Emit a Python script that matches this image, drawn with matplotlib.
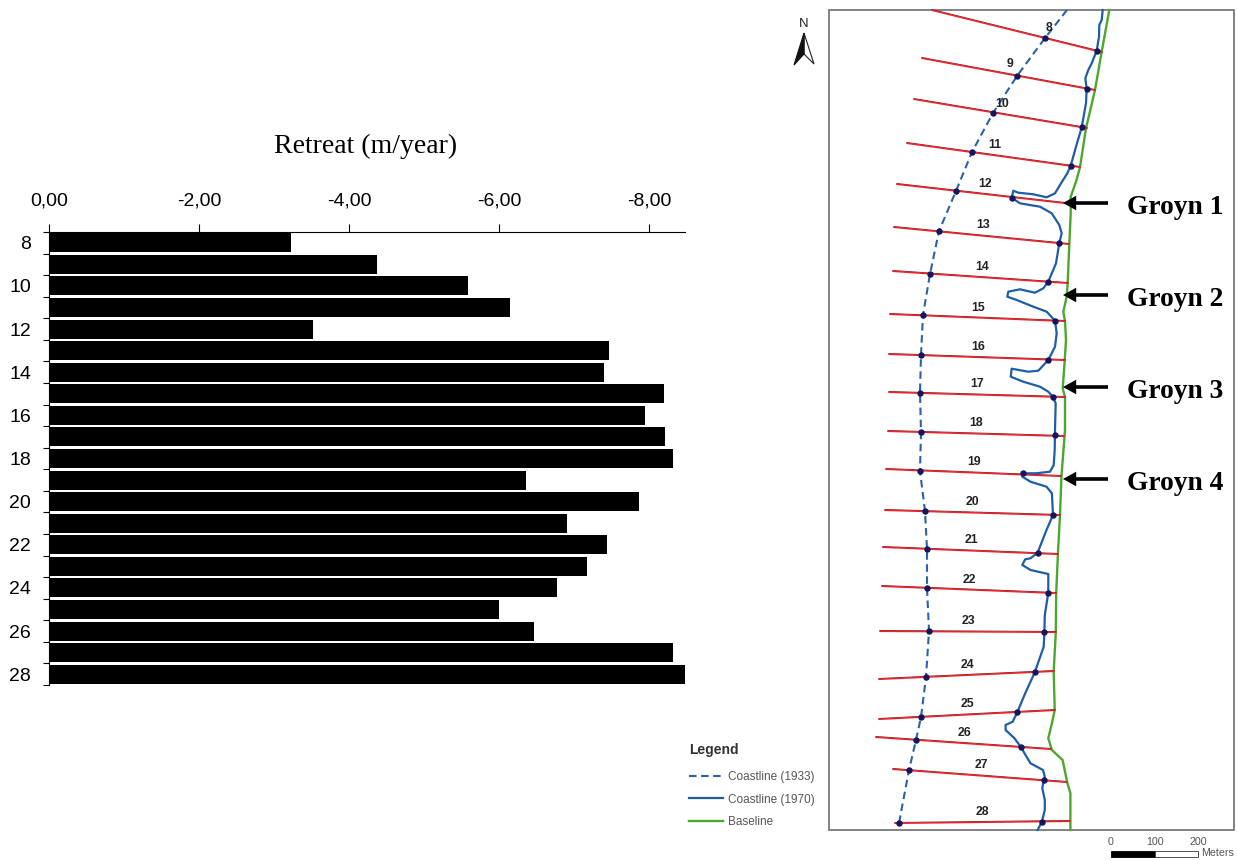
import numpy as np
from matplotlib import pyplot as plt
from matplotlib.lines import Line2D
from matplotlib.patches import Polygon, Rectangle

# bar chart values
profiles = list(range(8, 29))
retreat = [-3.23, -4.37, -5.59, -6.15, -3.52, -7.47, -7.40, -8.20, -7.95, -8.21, -8.32,
           -6.36, -7.87, -6.91, -7.44, -7.17, -6.77, -6.00, -6.47, -8.32, -8.48]
x_ticks = [0, -2, -4, -6, -8]
x_labels = ['0,00', '-2,00', '-4,00', '-6,00', '-8,00']

transect_left = [(932, 10), (922, 58), (914, 99), (907, 143), (897, 184), (894, 227), (893, 271),
                 (890, 314), (889, 354), (889, 392), (888, 431), (886, 469), (885, 510), (883, 547),
                 (882, 586), (880, 631), (879, 679), (879, 719), (876, 737), (893, 769), (895, 823)]
transect_right = [(1102, 52), (1095, 90), (1087, 128), (1080, 167), (1065, 203), (1069, 244), (1068, 283),
                  (1065, 321), (1065, 360), (1065, 397), (1064, 436), (1061, 476), (1060, 515), (1058, 554),
                  (1056, 593), (1056, 632), (1054, 671), (1055, 710), (1051, 749), (1067, 782), (1070, 821)]
label_pos = [(1049, 28), (1010, 64), (1002, 104), (995, 145), (985, 184), (983, 225), (982, 267),
             (978, 308), (978, 347), (977, 384), (976, 423), (974, 462), (972, 502), (971, 540),
             (969, 580), (968, 621), (967, 665), (967, 704), (965, 733), (981, 765), (982, 812)]
coast_1933 = [(1067, 10), (1045, 38), (1017, 76), (993, 113), (972, 152), (956, 191), (939, 231),
              (930, 274), (923, 315), (921, 355), (920, 393), (921, 432), (920, 471), (925, 511),
              (927, 549), (927, 588), (929, 631), (926, 677), (921, 717), (916, 740), (909, 770),
              (899, 823), (898, 827)]
coast_1970 = [(1102.7, 10), (1101.7, 20), (1099.3, 25), (1099, 36.7), (1096.7, 50.7), (1091.7, 63.3),
              (1088.3, 70), (1085.3, 78.3), (1086.7, 88.7), (1086, 103.3), (1081.7, 127.3), (1076, 146.7),
              (1070.7, 165.7), (1067.3, 173.3), (1060, 185), (1055, 193.3), (1046.7, 197.3), (1033.3, 194.3),
              (1018.3, 192.7), (1013.3, 190.7), (1011.7, 197.7), (1020, 203.3), (1040, 206.7), (1051.7, 213.3),
              (1059.3, 225), (1061.7, 233.3), (1059.3, 243), (1056, 263.3), (1048.3, 281.7), (1043.3, 288.3),
              (1035, 292.7), (1020, 289.3), (1008.3, 291.7), (1007.3, 296.7), (1016.7, 300), (1033.3, 306.7),
              (1046.7, 311.7), (1055, 320.7), (1056.7, 333.3), (1055, 346.7), (1048.3, 360), (1038.3, 370.7),
              (1028.3, 371.7), (1011.7, 368.7), (1010.7, 376.7), (1023.3, 381.7), (1040, 386.7), (1048.3, 391.7),
              (1052.7, 396.7), (1055.7, 403.3), (1055, 430), (1054.7, 450), (1053.7, 465), (1050, 471.7),
              (1035.9, 473.3), (1023.4, 473.3), (1022.3, 476.7), (1030.5, 481.7), (1046.5, 486.7), (1051.9, 493.3),
              (1053, 515), (1046.5, 530), (1037.6, 552.7), (1030.5, 558.3), (1025.2, 559.3), (1022.3, 565),
              (1030.5, 570), (1048.3, 574), (1048.3, 592.7), (1044.8, 615), (1044.4, 631.7), (1043.7, 646.7),
              (1034.8, 672.3), (1025.2, 693.3), (1017.4, 712), (1012.7, 721.7), (1005.6, 725), (1005.6, 730),
              (1014.5, 738.3), (1020.6, 746.7), (1030.5, 763.3), (1043, 770), (1044.8, 776.7), (1043.7, 780),
              (1042.3, 788.3), (1044.8, 800), (1044.8, 810), (1041.9, 821.7), (1037.6, 830)]
baseline = [(1109.3, 10), (1101.7, 51.7), (1095, 90), (1086, 128.3), (1080, 167.3), (1076, 181.7),
            (1070.7, 196.7), (1070.7, 213.3), (1069.3, 244.3), (1067.7, 282.7), (1066.7, 296.7), (1063.3, 311.7),
            (1065, 321.3), (1066, 340), (1064.3, 366.7), (1062.7, 388.3), (1065, 397), (1065, 430),
            (1061.5, 475.7), (1060, 515), (1057.9, 554), (1056.2, 593.3), (1055.8, 632.3), (1053.7, 671.3),
            (1054.7, 710), (1051.9, 723.3), (1048.3, 738.3), (1051.9, 750), (1062.6, 760), (1067.2, 782.3),
            (1070.4, 793.3), (1070.4, 830)]
dots_1933 = coast_1933[1:22]
dots_1970 = [(1096.7, 50.7), (1086.7, 88.7), (1081.7, 127.3), (1070.7, 165.7), (1011.7, 197.7), (1059.3, 243),
             (1048.3, 281.7), (1055, 320.7), (1048.3, 360), (1052.7, 396.7), (1054.7, 435), (1023.4, 473.3),
             (1053, 515), (1037.6, 552.7), (1048.3, 592.7), (1044.4, 631.7), (1034.8, 672.3), (1017.4, 712),
             (1020.6, 746.7), (1043.7, 780), (1041.9, 821.7)]
groyn_names = ['Groyn 1', 'Groyn 2', 'Groyn 3', 'Groyn 4']
groyn_y = [203, 295, 387, 479]
scale_ticks = [1111, 1155, 1198]
scale_labels = ['0', '100', '200']

col_1933 = '#2a62a5'
col_1970 = '#1f5da6'
col_base = '#4ca82c'
col_red = '#f0202a'
col_dot = '#15155c'
col_grey = '#555555'

W, H = 1237, 860
fig = plt.figure(figsize=(W / 100, H / 100), dpi=100)

# bars
ax = fig.add_axes([49 / W, 1 - 685 / H, (685 - 49) / W, (685 - 232) / H])
ax.barh(profiles, retreat, height=0.88, color='black')
ax.set_xlim(0, -8.48)
ax.set_ylim(28.5, 7.5)
ax.xaxis.tick_top()
ax.set_xticks(x_ticks)
ax.set_xticklabels(x_labels, family='Liberation Sans', fontsize=14)
ax.tick_params(axis='x', length=6, width=0.8, pad=10)
ax.set_yticks(profiles[::2])
ax.set_yticklabels(profiles[::2], family='Liberation Sans', fontsize=14)
ax.set_yticks(np.arange(7.5, 29), minor=True)
ax.tick_params(axis='y', which='major', length=0, pad=13)
ax.tick_params(axis='y', which='minor', length=4, width=0.8)
ax.spines['right'].set_visible(False)
ax.spines['bottom'].set_visible(False)
ax.set_title('Retreat (m/year)', family='Liberation Serif', fontsize=20, pad=57, x=0.498)

# map in picture coordinates
m = fig.add_axes([0, 0, 1, 1])
m.set_xlim(0, W)
m.set_ylim(H, 0)
m.axis('off')
m.patch.set_alpha(0)

m.add_patch(Rectangle((829, 10), 405, 820, fc='white', ec='#7a7a7a', lw=1.3))

m.plot(*zip(*baseline), color=col_base, lw=1.7, zorder=2)
for a, b in zip(transect_left, transect_right):
    m.plot([a[0], b[0]], [a[1] - 0.5, b[1] - 0.5], color='#6a3030', lw=0.7, zorder=3)
    m.plot([a[0], b[0]], [a[1] + 0.3, b[1] + 0.3], color=col_red, lw=1.1, zorder=3)
m.plot(*zip(*coast_1933), color=col_1933, lw=1.5, ls=(0, (3.6, 2.2)), zorder=4)
m.plot(*zip(*coast_1970), color=col_1970, lw=1.6, zorder=4, solid_joinstyle='round')
m.plot(*zip(*dots_1933), ls='none', marker='o', ms=3.6, color=col_dot, zorder=5)
m.plot(*zip(*dots_1970), ls='none', marker='o', ms=3.6, color=col_dot, zorder=5)

for p, pos in zip(profiles, label_pos):
    m.text(pos[0], pos[1], str(p), family='Liberation Sans', weight='bold', fontsize=8.8,
           color='#222222', ha='center', va='center', zorder=6)

# groyn arrows and names
for name, y in zip(groyn_names, groyn_y):
    m.annotate('', xy=(1063, y), xytext=(1108, y),
               arrowprops=dict(width=2.6, headwidth=10.5, headlength=9.5, fc='black', ec='black', shrink=0, lw=0))
    m.text(1127, y + 5, name, family='Liberation Serif', weight='bold', fontsize=19.8,
           color='black', ha='left', va='center')

# north arrow
m.add_patch(Polygon([(804, 33), (814, 64), (804, 54)], fc='white', ec='#222222', lw=0.8))
m.add_patch(Polygon([(804, 33), (794, 65), (804, 54)], fc='#111111', ec='#111111', lw=0.8))
m.text(804, 24, 'N', family='Liberation Sans', fontsize=9.5, color='#222222', ha='center', va='center')

# legend
handles = [Line2D([], [], color=col_1933, lw=1.5, ls=(0, (3.6, 2.2))),
           Line2D([], [], color=col_1970, lw=1.6),
           Line2D([], [], color=col_base, lw=1.7)]
leg = m.legend(handles, ['Coastline (1933)', 'Coastline (1970)', 'Baseline'], loc='upper left',
               bbox_to_anchor=(689, 743), bbox_transform=m.transData, frameon=False, borderaxespad=0,
               borderpad=0, handlelength=2.9, handletextpad=0.42, labelspacing=0.9,
               prop={'family': 'Liberation Sans', 'size': 8.5}, labelcolor=col_grey, alignment='left',
               title='Legend', title_fontproperties={'family': 'Liberation Sans', 'weight': 'bold', 'size': 10})
leg.get_title().set_color('#333333')
leg._legend_box.sep = 10

# scale bar
m.add_patch(Rectangle((scale_ticks[0], 851), scale_ticks[1] - scale_ticks[0], 5.5, fc='black', ec='black', lw=0.6))
m.add_patch(Rectangle((scale_ticks[1], 851), scale_ticks[2] - scale_ticks[1], 5.5, fc='white', ec='#333333', lw=0.6))
for x, lab in zip(scale_ticks, scale_labels):
    m.text(x, 842, lab, family='Liberation Sans', fontsize=7.7, color=col_grey, ha='center', va='center')
m.text(1201, 853, 'Meters', family='Liberation Sans', fontsize=7.7, color=col_grey, ha='left', va='center')

plt.savefig('out.png', dpi=100)
